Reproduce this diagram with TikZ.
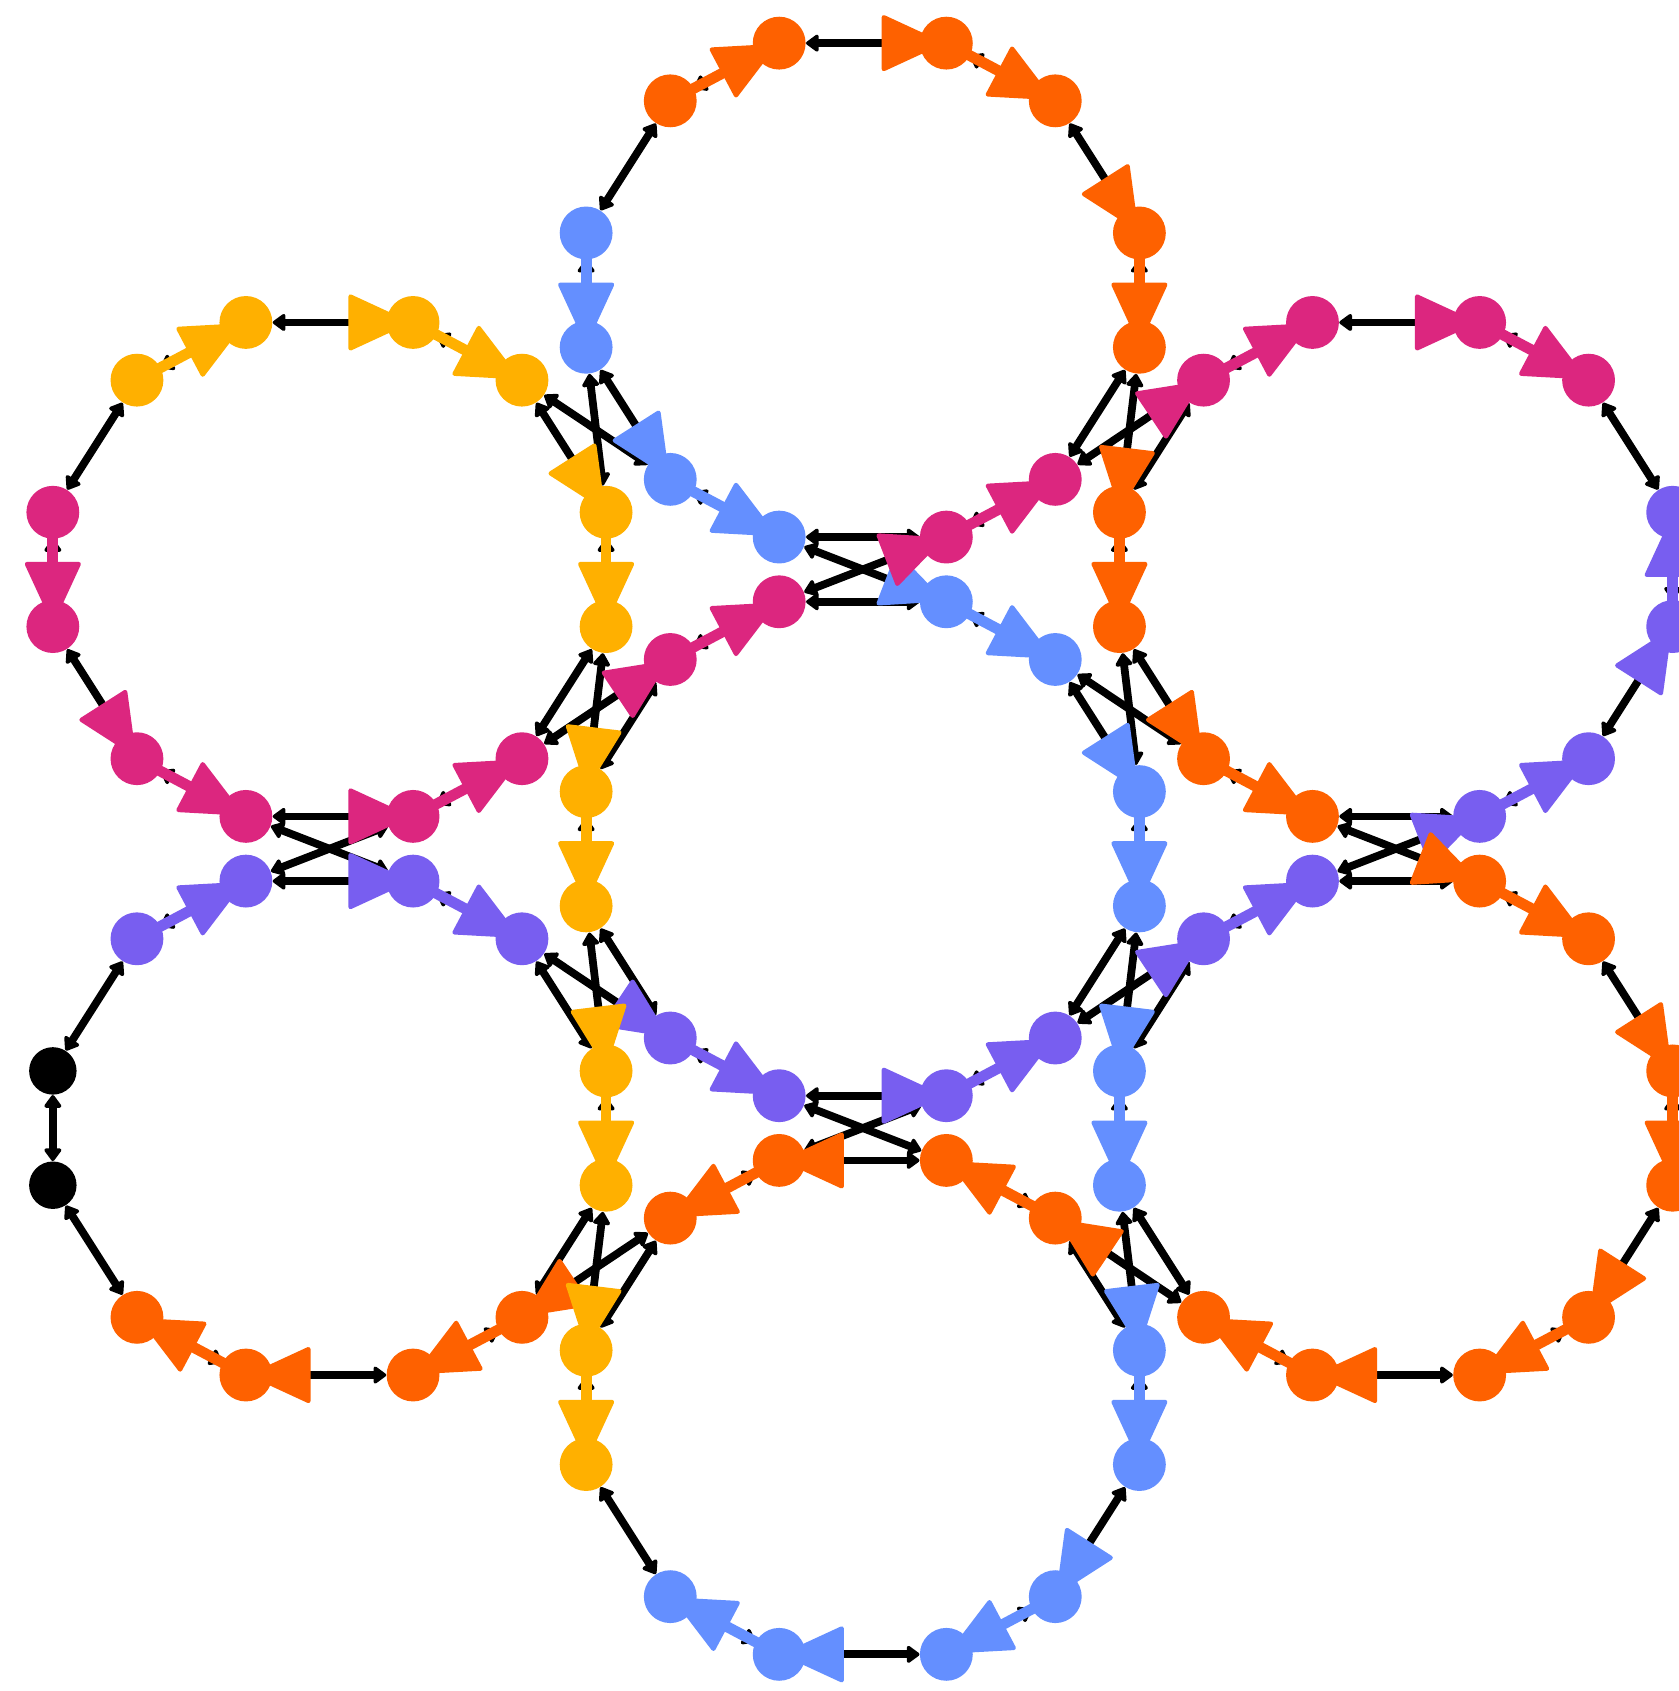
\documentclass[tikz,border=0pt]{standalone}
\usetikzlibrary{arrows.meta,calc}
\pgfdeclarelayer{bg}
\pgfsetlayers{bg,main}
\definecolor{cblue}{HTML}{648FFF}
\definecolor{cpurple}{HTML}{785EF0}
\definecolor{cmag}{HTML}{DC267F}
\definecolor{corange}{HTML}{FE6100}
\definecolor{cyellow}{HTML}{FFB000}
\def\kblack{black}
\newcommand\mkring[4]{%
  \foreach \i/\col in {#4}{%
    \pgfmathsetmacro\dx{{-77.5,77.5,178.5,256.5,256.5,178.5,77.5,-77.5,-178.5,-256.5,-256.5,-178.5}[\i]}%
    \pgfmathsetmacro\dy{{-229,-229,-175.5,-53,53,175.5,229,229,175.5,53,-53,-175.5}[\i]}%
    \ifx\col\kblack
      \node[bdot] (#1\i) at ({#2+\dx},{#3+\dy}) {};%
    \else
      \node[dot, fill=\col] (#1\i) at ({#2+\dx},{#3+\dy}) {};%
    \fi
  }}
\newcommand\ctri[3]{%
  \path ($(#3.center)!29pt!(#2.center)$) coordinate (tb);
  \filldraw[#1, line width=2pt, line join=round]
    ($(#3.center)!3pt!(#2.center)$) -- ($(tb)!12pt!90:(#3.center)$) -- ($(tb)!12pt!-90:(#3.center)$) -- cycle;}
\newcommand\blackfor[1]{\foreach \u/\v/\t in #1 {\draw[blk,<-] (\u) -- (\v);}}
\newcommand\colfor[2]{\foreach \u/\v/\t in #2 {%
   \ifnum\t=1 \draw[#1, line width=5pt] (\u.center) -- (\v.center);\fi
   \ctri{#1}{\u}{\v}}}
\def\bluesteps{T10/T9/1, T9/T8/0, T8/T7/1, T7/C1/0, C1/C2/1, C2/C3/0, C3/C4/1, C4/RB10/0, RB10/RB9/1, RB9/B3/0, B3/B4/1, B4/B5/0, B5/B6/1, B6/B7/0, B7/B8/1}
\def\purplesteps{LB11/LB0/1, LB0/LB1/0, LB1/LB2/1, LB2/C8/0, C8/C7/1, C7/C6/0, C6/C5/1, C5/RB11/0, RB11/RB0/1, RB0/RT6/0, RT6/RT5/1, RT5/RT4/0, RT4/RT3/1}
\def\magsteps{LT10/LT9/1, LT9/LT8/0, LT8/LT7/1, LT7/LT6/0, LT6/LT5/1, LT5/C11/0, C11/C0/1, C0/T6/0, T6/T5/1, T5/RT11/0, RT11/RT0/1, RT0/RT1/0, RT1/RT2/1}
\def\orangesteps{T11/T0/1, T0/T1/0, T1/T2/1, T2/T3/0, T3/T4/1, T4/RT10/0, RT10/RT9/1, RT9/RT8/0, RT8/RT7/1, RT7/RB1/0, RB1/RB2/1, RB2/RB3/0, RB3/RB4/1, RB4/RB5/0, RB5/RB6/1, RB6/RB7/0, RB7/RB8/1, RB8/B2/0, B2/B1/1, B1/B0/0, B0/B11/1, B11/LB5/0, LB5/LB6/1, LB6/LB7/0, LB7/LB8/1}
\def\yellowsteps{LT11/LT0/1, LT0/LT1/0, LT1/LT2/1, LT2/LT3/0, LT3/LT4/1, LT4/C10/0, C10/C9/1, C9/LB3/0, LB3/LB4/1, LB4/B10/0, B10/B9/1}
\begin{document}
\begin{tikzpicture}[x=0.5pt,y=-0.5pt,
  dot/.style={circle, inner sep=0pt, minimum size=24.5pt, draw=none},
  bdot/.style={circle, inner sep=0pt, minimum size=22pt, draw=none, fill=black},
  blk/.style={line width=3.6pt, black},
  >={Triangle[length=6.5pt,width=9pt,round]}]
\useasboundingbox (0,0) rectangle (1556,1568);
% rings of nodes
\mkring{T}{800}{269}{0/corange,1/corange,2/corange,3/corange,4/corange,5/cmag,6/cmag,7/cblue,8/cblue,9/cblue,10/cblue,11/corange}
\mkring{C}{800}{787}{0/cmag,1/cblue,2/cblue,3/cblue,4/cblue,5/cpurple,6/cpurple,7/cpurple,8/cpurple,9/cyellow,10/cyellow,11/cmag}
\mkring{B}{800}{1305}{0/corange,1/corange,2/corange,3/cblue,4/cblue,5/cblue,6/cblue,7/cblue,8/cblue,9/cyellow,10/cyellow,11/corange}
\mkring{LT}{305.5}{528}{0/cyellow,1/cyellow,2/cyellow,3/cyellow,4/cyellow,5/cmag,6/cmag,7/cmag,8/cmag,9/cmag,10/cmag,11/cyellow}
\mkring{RT}{1294.5}{528}{0/cmag,1/cmag,2/cmag,3/cpurple,4/cpurple,5/cpurple,6/cpurple,7/corange,8/corange,9/corange,10/corange,11/cmag}
\mkring{LB}{305.5}{1046}{0/cpurple,1/cpurple,2/cpurple,3/cyellow,4/cyellow,5/corange,6/corange,7/corange,8/corange,9/black,10/black,11/cpurple}
\mkring{RB}{1294.5}{1046}{0/cpurple,1/corange,2/corange,3/corange,4/corange,5/corange,6/corange,7/corange,8/corange,9/cblue,10/cblue,11/cpurple}
\begin{pgfonlayer}{bg}
\fill[white] (0,0) rectangle (1556,1568);
% black edges under coloured steps
\blackfor\bluesteps
\blackfor\purplesteps
\blackfor\magsteps
\blackfor\orangesteps
\blackfor\yellowsteps
% plain black edges
\foreach \u/\v in {T4/T5, T6/T7, T10/T11, C0/C1, C4/C5, C8/C9, C10/C11,
  B2/B3, B8/B9, B10/B11, LT4/LT5, LT10/LT11, RT2/RT3, RT6/RT7, RT10/RT11,
  LB2/LB3, LB4/LB5, LB8/LB9, LB9/LB10, LB10/LB11, RB0/RB1, RB8/RB9, RB10/RB11,
  C7/B1, C6/B0, LT7/LB1, LT6/LB0, T9/LT3, T8/LT2, RT9/C3, RT8/C2}
  {\draw[blk,<->] (\u) -- (\v);}
% coloured steps
\colfor{cblue}\bluesteps
\colfor{cpurple}\purplesteps
\colfor{cmag}\magsteps
\colfor{corange}\orangesteps
\colfor{cyellow}\yellowsteps
\end{pgfonlayer}
\end{tikzpicture}
\end{document}
